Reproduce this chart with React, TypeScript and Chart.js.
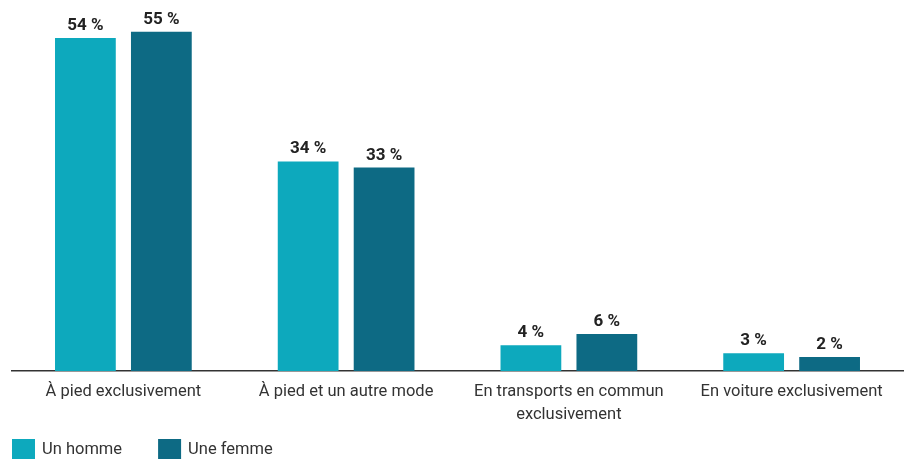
import React, { useEffect, useRef } from "react";
import { Chart, registerables } from "chart.js";

Chart.register(...registerables);

const categories: (string | string[])[] = [
  "À pied exclusivement",
  "À pied et un autre mode",
  ["En transports en commun", "exclusivement"],
  "En voiture exclusivement",
];
const seriesNames = ["Un homme", "Une femme"];
const homme = [54, 34, 4.2, 2.9];
const femme = [55, 33, 6.0, 2.3];
const colors = ["#0DA9BD", "#0D6A84"];

const valueLabels = {
  id: "valueLabels",
  afterDatasetsDraw(chart: any) {
    const ctx = chart.ctx;
    ctx.save();
    ctx.font = "bold 17px Roboto";
    ctx.fillStyle = "#222";
    ctx.textAlign = "center";
    ctx.textBaseline = "alphabetic";
    chart.data.datasets.forEach((ds: any, i: number) => {
      const meta = chart.getDatasetMeta(i);
      meta.data.forEach((bar: any, j: number) => {
        const v = Math.round(ds.data[j]);
        ctx.fillText(v + " %", bar.x, bar.y - 8);
      });
    });
    ctx.restore();
  },
};

const bottomLegend = {
  id: "bottomLegend",
  afterDraw(chart: any) {
    const ctx = chart.ctx;
    ctx.save();
    ctx.font = "16.5px Roboto";
    ctx.textBaseline = "middle";
    ctx.textAlign = "left";
    let x = 12;
    const y = 439;
    chart.data.datasets.forEach((ds: any) => {
      ctx.fillStyle = ds.backgroundColor;
      ctx.fillRect(x, y, 23, 22);
      ctx.fillStyle = "#333";
      ctx.fillText(ds.label, x + 30, y + 11);
      x += 30 + ctx.measureText(ds.label).width + 36;
    });
    ctx.restore();
  },
};

export default function App() {
  const ref = useRef<HTMLCanvasElement>(null);
  useEffect(() => {
    if (!ref.current) return;
    const chart = new Chart(ref.current, {
      type: "bar",
      data: {
        labels: categories,
        datasets: [
          { label: seriesNames[0], data: homme, backgroundColor: colors[0] },
          { label: seriesNames[1], data: femme, backgroundColor: colors[1] },
        ],
      },
      options: {
        animation: false,
        responsive: false,
        maintainAspectRatio: false,
        layout: { padding: { left: 12, right: 8, top: 1, bottom: 23 } },
        datasets: {
          bar: { categoryPercentage: 0.682, barPercentage: 0.8 },
        } as any,
        scales: {
          x: {
            grid: { display: false, drawTicks: false },
            border: { display: true, color: "#333", width: 1.5 },
            ticks: {
              color: "#333",
              font: { family: "Roboto", size: 16.5, lineHeight: 1.36 },
              padding: 10,
              maxRotation: 0,
            },
          },
          y: {
            display: false,
            min: 0,
            max: 60,
          },
        },
        plugins: {
          legend: { display: false },
          tooltip: { enabled: false },
        },
      },
      plugins: [valueLabels, bottomLegend],
    });
    return () => chart.destroy();
  }, []);
  return (
    <div style={{ position: "absolute", left: 0, top: 0, width: 911, height: 459 }}>
      <canvas ref={ref} width={911} height={459} style={{ display: "block" }} />
    </div>
  );
}
